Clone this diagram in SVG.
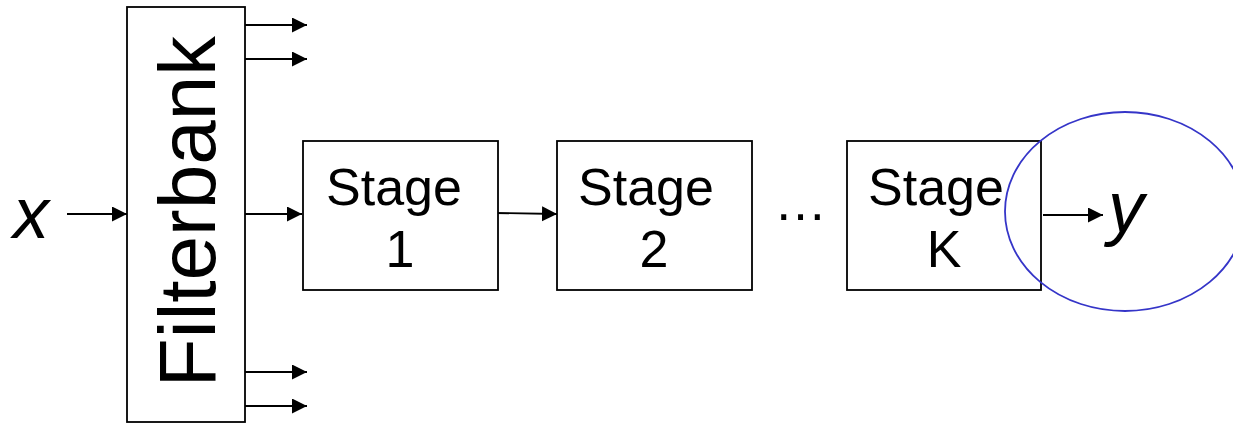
<svg xmlns="http://www.w3.org/2000/svg" width="1233" height="424" viewBox="0 0 1233 424">
  <style>
    .box { fill: #ffffff; stroke: #000000; stroke-width: 1.8; }
    .wire { stroke: #000000; stroke-width: 1.8; fill: none; marker-end: url(#arr); }
    .lbl { font-family: "Liberation Sans", Arial, sans-serif; fill: #000000; }
    .stage { font-size: 52px; text-anchor: middle; }
    .ital { font-style: italic; font-size: 72px; }
  </style>
  <defs>
    <marker id="arr" markerUnits="userSpaceOnUse" markerWidth="16" markerHeight="16" refX="15" refY="7.5" orient="auto">
      <path d="M0,0 L15,7.5 L0,15 Z" fill="#000000"/>
    </marker>
  </defs>
  <rect width="1233" height="424" fill="#ffffff"/>

  <g id="connectors">
    <line class="wire" x1="67" y1="214" x2="127" y2="214"/>
    <line class="wire" x1="245" y1="25" x2="307" y2="25"/>
    <line class="wire" x1="245" y1="59" x2="307" y2="59"/>
    <line class="wire" x1="245" y1="214" x2="302" y2="214"/>
    <line class="wire" x1="245" y1="372" x2="307" y2="372"/>
    <line class="wire" x1="245" y1="406" x2="307" y2="406"/>
    <line class="wire" x1="495" y1="213" x2="557" y2="214"/>
    <line class="wire" x1="1043" y1="215" x2="1103" y2="215"/>
  </g>

  <g id="input-x">
    <text class="lbl ital" x="13" y="238">x</text>
  </g>

  <g id="filterbank">
    <rect class="box" x="127" y="7" width="118" height="415"/>
    <text class="lbl" font-size="80" text-anchor="middle" transform="translate(215,211.5) rotate(-90)">Filterbank</text>
  </g>

  <g id="stage1">
    <rect class="box" x="303" y="141" width="195" height="149"/>
    <text class="lbl stage" x="394" y="205">Stage</text>
    <text class="lbl stage" x="400" y="267">1</text>
  </g>

  <g id="stage2">
    <rect class="box" x="557" y="141" width="195" height="149"/>
    <text class="lbl stage" x="646" y="205">Stage</text>
    <text class="lbl stage" x="654" y="267">2</text>
  </g>

  <g id="ellipsis">
    <text class="lbl" font-size="53" x="774" y="220">…</text>
  </g>

  <g id="stageK">
    <rect class="box" x="847" y="141" width="194" height="149"/>
    <text class="lbl stage" x="936" y="205">Stage</text>
    <text class="lbl stage" x="944" y="267">K</text>
  </g>

  <g id="output-y">
    <text class="lbl ital" x="1108" y="232">y</text>
  </g>

  <g id="highlight">
    <ellipse cx="1125" cy="211.5" rx="120" ry="99.5" fill="none" stroke="#3535c8" stroke-width="1.8"/>
  </g>
</svg>
